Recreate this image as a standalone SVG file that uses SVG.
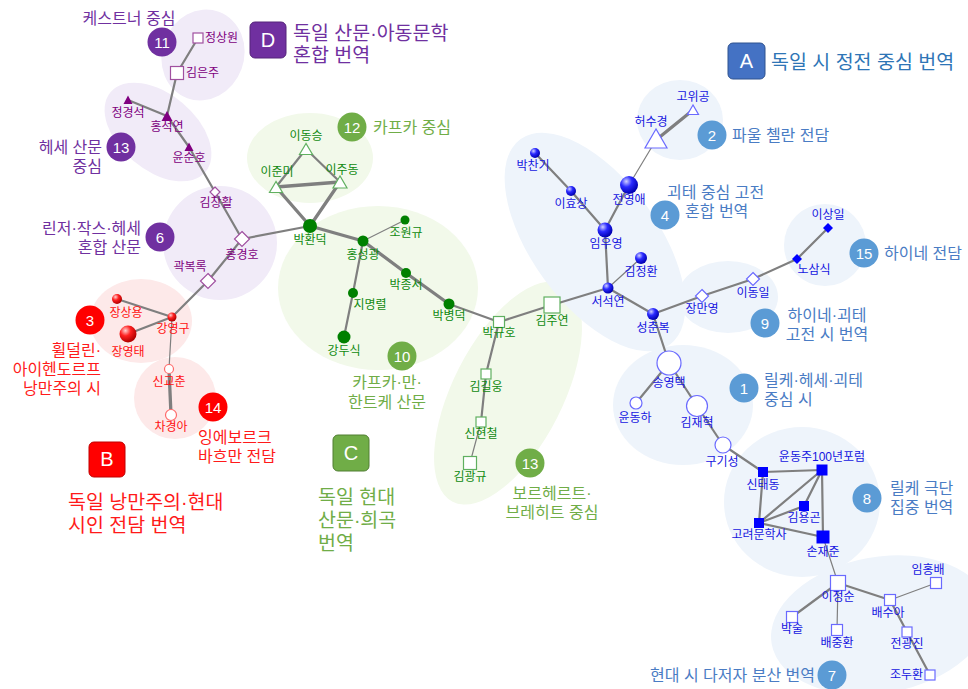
<svg xmlns="http://www.w3.org/2000/svg" width="968" height="689" viewBox="0 0 968 689">
<style>
text{font-family:"Liberation Sans","Noto Sans CJK KR",sans-serif}
.e{stroke:#7f7f7f;stroke-width:2.2;fill:none;stroke-linecap:round}
.t{stroke-width:3.3}
.n{stroke-width:1.2}
.l{font-size:12px;text-anchor:middle}
.ls{text-anchor:start}
.lp{fill:#800080}.lr{fill:#ff1010}.lg{fill:#108a10}.lb{fill:#1515e0}
.ps{fill:#fff;stroke:#a050a0;stroke-width:1.2}
.pf{fill:#800080}
.gs{fill:#fff;stroke:#60b060;stroke-width:1.2}
.gf{fill:#008000}
.bs{fill:#fff;stroke:#6a6aff;stroke-width:1.2}
.bf{fill:#0000ff}
.rs{fill:#fff;stroke:#ff6a6a;stroke-width:1.2}
.c{font-size:16px}
.tt{font-size:19.5px}
.bd{font-size:15px;fill:#fff;text-anchor:middle}
.bx{font-size:20px;fill:#fff;text-anchor:middle}
.cp{fill:#7030a0}.cr{fill:#ff1a1a}.cg{fill:#70ad47}.cb{fill:#4a7cc4}
</style>
<defs>
<radialGradient id="sb" cx="35%" cy="30%" r="70%"><stop offset="0" stop-color="#d0d0ff"/><stop offset="0.45" stop-color="#2a2aff"/><stop offset="1" stop-color="#0000b0"/></radialGradient>
<radialGradient id="sr" cx="35%" cy="30%" r="70%"><stop offset="0" stop-color="#ffd0d0"/><stop offset="0.45" stop-color="#ff2020"/><stop offset="1" stop-color="#b00000"/></radialGradient>
</defs>
<rect width="968" height="689" fill="#fff"/>
<g id="blobs">
<ellipse cx="203" cy="55" rx="41" ry="46" transform="rotate(20 203 55)" fill="#f1ebf8"/>
<ellipse cx="158" cy="132" rx="62" ry="38" transform="rotate(40 158 132)" fill="#f1ebf8"/>
<circle cx="220" cy="243" r="57" fill="#f1ebf8"/>
<ellipse cx="141" cy="321" rx="51" ry="42" fill="#fde9e9"/>
<circle cx="175" cy="398" r="41" fill="#fde9e9"/>
<ellipse cx="310" cy="158" rx="63" ry="45" fill="#f2f9ea"/>
<ellipse cx="378" cy="288" rx="100" ry="82" fill="#f2f9ea"/>
<ellipse cx="508" cy="393" rx="122" ry="55" transform="rotate(117 508 393)" fill="#f2f9ea"/>
<ellipse cx="680" cy="120" rx="43" ry="40" fill="#eef4fb"/>
<ellipse cx="595" cy="242" rx="127" ry="63" transform="rotate(54 595 242)" fill="#eef4fb"/>
<ellipse cx="728" cy="297" rx="50" ry="36" fill="#eef4fb"/>
<circle cx="825" cy="245" r="41" fill="#eef4fb"/>
<ellipse cx="683" cy="405" rx="70" ry="60" fill="#eef4fb"/>
<ellipse cx="802" cy="502" rx="78" ry="75" fill="#eef4fb"/>
<ellipse cx="880" cy="625" rx="110" ry="68" transform="rotate(-10 880 625)" fill="#eef4fb"/>
</g>
<g id="connectors">
<line class="e" x1="198" y1="38" x2="177" y2="73"/>
<line class="e" x1="177" y1="73" x2="167" y2="116"/>
<line class="e" x1="128" y1="100" x2="167" y2="116"/>
<line class="e" x1="167" y1="116" x2="189" y2="147"/>
<line class="e" x1="189" y1="147" x2="215" y2="192"/>
<line class="e" x1="215" y1="192" x2="242" y2="239"/>
<line class="e" x1="242" y1="239" x2="310" y2="226"/>
<line class="e" x1="242" y1="239" x2="208" y2="281"/>
<line class="e" x1="208" y1="281" x2="172" y2="317"/>
<line class="e" x1="117" y1="299" x2="172" y2="317"/>
<line class="e" x1="128" y1="334" x2="172" y2="317"/>
<line class="e n" x1="172" y1="317" x2="169" y2="369"/>
<line class="e t" x1="169" y1="369" x2="171" y2="415"/>
<line class="e t" x1="310" y1="226" x2="276" y2="187"/>
<line class="e t" x1="310" y1="226" x2="340" y2="182"/>
<line class="e t" x1="276" y1="187" x2="340" y2="182"/>
<line class="e" x1="276" y1="187" x2="306" y2="149"/>
<line class="e" x1="306" y1="149" x2="340" y2="182"/>
<line class="e t" x1="310" y1="226" x2="363" y2="241"/>
<line class="e n" x1="363" y1="241" x2="405" y2="220"/>
<line class="e t" x1="363" y1="241" x2="406" y2="273"/>
<line class="e t" x1="406" y1="273" x2="449" y2="304"/>
<line class="e" x1="363" y1="241" x2="353" y2="293"/>
<line class="e" x1="353" y1="293" x2="344" y2="337"/>
<line class="e" x1="449" y1="304" x2="499" y2="322"/>
<line class="e" x1="499" y1="322" x2="552" y2="305"/>
<line class="e" x1="552" y1="305" x2="608" y2="288"/>
<line class="e" x1="499" y1="322" x2="486" y2="374"/>
<line class="e" x1="486" y1="374" x2="481" y2="422"/>
<line class="e n" x1="481" y1="422" x2="470" y2="463"/>
<line class="e" x1="608" y1="288" x2="605" y2="230"/>
<line class="e" x1="605" y1="230" x2="629" y2="185"/>
<line class="e" x1="605" y1="230" x2="571" y2="191"/>
<line class="e" x1="571" y1="191" x2="535" y2="153"/>
<line class="e n" x1="629" y1="185" x2="656" y2="140"/>
<line class="e t" x1="656" y1="140" x2="693" y2="110"/>
<line class="e n" x1="608" y1="288" x2="641" y2="258"/>
<line class="e" x1="608" y1="288" x2="653" y2="314"/>
<line class="e" x1="653" y1="314" x2="702" y2="296"/>
<line class="e" x1="702" y1="296" x2="753" y2="279"/>
<line class="e" x1="753" y1="279" x2="797" y2="259"/>
<line class="e" x1="797" y1="259" x2="828" y2="228"/>
<line class="e" x1="653" y1="314" x2="669" y2="363"/>
<line class="e" x1="669" y1="363" x2="636" y2="403"/>
<line class="e" x1="669" y1="363" x2="697" y2="406"/>
<line class="e" x1="697" y1="406" x2="723" y2="445"/>
<line class="e" x1="723" y1="445" x2="763" y2="472"/>
<line class="e" x1="763" y1="472" x2="822" y2="470"/>
<line class="e" x1="763" y1="472" x2="759" y2="523"/>
<line class="e" x1="759" y1="523" x2="822" y2="470"/>
<line class="e" x1="759" y1="523" x2="804" y2="506"/>
<line class="e" x1="804" y1="506" x2="822" y2="470"/>
<line class="e" x1="759" y1="523" x2="823" y2="537"/>
<line class="e" x1="822" y1="470" x2="823" y2="537"/>
<line class="e n" x1="823" y1="537" x2="838" y2="583"/>
<line class="e" x1="838" y1="583" x2="792" y2="617"/>
<line class="e n" x1="838" y1="583" x2="837" y2="630"/>
<line class="e" x1="838" y1="583" x2="890" y2="600"/>
<line class="e n" x1="890" y1="600" x2="936" y2="583"/>
<line class="e" x1="890" y1="600" x2="907" y2="632"/>
<line class="e" x1="907" y1="632" x2="930" y2="675"/>
</g>
<g id="n-jeongsangwon"><rect class="ps" x="193" y="33" width="10" height="10"/><text class="l ls lp" x="205" y="42">정상원</text></g>
<g id="n-kimeunju"><rect class="ps" x="170.5" y="66.5" width="13" height="13"/><text class="l ls lp" x="186" y="77">김은주</text></g>
<g id="n-hongseokyeon"><polygon class="pf" points="167,111 161.5,121 172.5,121"/><text class="l lp" x="167" y="131">홍석연</text></g>
<g id="n-jeonggyeongseok"><polygon class="pf" points="128,95.5 123.5,104 132.5,104"/><text class="l lp" x="128" y="117">정경석</text></g>
<g id="n-yoonsunho"><polygon class="pf" points="189,142.5 184.5,151 193.5,151"/><text class="l lp" x="189" y="162">윤순호</text></g>
<g id="n-kimchanghwal"><polygon class="ps" points="215,187 220,192 215,197 210,192"/><text class="l lp" x="216" y="207">김창활</text></g>
<g id="n-honggyeongho"><polygon class="ps" points="242,231.5 249.5,239 242,246.5 234.5,239"/><text class="l lp" x="242" y="259">홍경호</text></g>
<g id="n-gwakbokrok"><polygon class="ps" points="208,273.5 215.5,281 208,288.5 200.5,281"/><text class="l lp" x="190" y="271">곽복록</text></g>
<g id="n-kangyeonggu"><circle cx="172" cy="317" r="4.5" fill="url(#sr)"/><text class="l lr" x="173" y="333">강영구</text></g>
<g id="n-jangsangyong"><circle cx="117" cy="299" r="5" fill="url(#sr)"/><text class="l lr" x="126" y="317">장상용</text></g>
<g id="n-jangyeongtae"><circle cx="128" cy="334" r="8.5" fill="url(#sr)"/><text class="l lr" x="128" y="356">장영태</text></g>
<g id="n-singyochun"><circle class="rs" cx="169" cy="369" r="4.5"/><text class="l lr" x="169" y="386">신교춘</text></g>
<g id="n-chagyeonga"><circle class="rs" cx="171" cy="415" r="5.5"/><text class="l lr" x="171" y="431">차경아</text></g>
<g id="n-leedongseung"><polygon class="gs" points="306,143.5 299.5,154.5 312.5,154.5"/><text class="l lg" x="306" y="140">이동승</text></g>
<g id="n-leejunmi"><polygon class="gs" points="276,181.5 269.5,192.5 282.5,192.5"/><text class="l lg" x="277" y="176">이준미</text></g>
<g id="n-leejudong"><polygon class="gs" points="340,176 333,188 347,188"/><text class="l lg" x="342" y="174">이주동</text></g>
<g id="n-parkhwandeok"><circle class="gf" cx="310" cy="226" r="7"/><text class="l lg" x="310" y="244">박환덕</text></g>
<g id="n-hongseonggwang"><circle class="gf" cx="363" cy="241" r="5.5"/><text class="l lg" x="363" y="259">홍성광</text></g>
<g id="n-jowongyu"><circle class="gf" cx="405" cy="220" r="4.5"/><text class="l lg" x="406" y="237">조원규</text></g>
<g id="n-parkjongseo"><circle class="gf" cx="406" cy="273" r="5"/><text class="l lg" x="406" y="289">박종서</text></g>
<g id="n-jimyeongryeol"><circle class="gf" cx="353" cy="293" r="5"/><text class="l lg" x="370" y="309">지명렬</text></g>
<g id="n-kangdusik"><circle class="gf" cx="344" cy="337" r="6.5"/><text class="l lg" x="344" y="355">강두식</text></g>
<g id="n-parkbyeongdeok"><circle class="gf" cx="449" cy="304" r="5.5"/><text class="l lg" x="449" y="320">박병덕</text></g>
<g id="n-parkgyuho"><rect class="gs" x="493.5" y="316.5" width="11" height="11"/><text class="l lg" x="499" y="337">박규호</text></g>
<g id="n-kimjuyeon"><rect class="gs" x="544" y="297" width="16" height="16"/><text class="l lg" x="552" y="325">김주연</text></g>
<g id="n-kimgilung"><rect class="gs" x="481" y="369" width="10" height="10"/><text class="l lg" x="486" y="391">김길웅</text></g>
<g id="n-sinhyeoncheol"><rect class="gs" x="476" y="417" width="10" height="10"/><text class="l lg" x="481" y="438">신현철</text></g>
<g id="n-kimgwanggyu"><rect class="gs" x="463.5" y="456.5" width="13" height="13"/><text class="l lg" x="470" y="481">김광규</text></g>
<g id="n-parkchangi"><circle cx="535" cy="153" r="5" fill="url(#sb)"/><text class="l lb" x="533" y="170">박찬기</text></g>
<g id="n-leehyosang"><circle cx="571" cy="191" r="5" fill="url(#sb)"/><text class="l lb" x="571" y="208">이효상</text></g>
<g id="n-jeonyeongae"><circle cx="629" cy="185" r="9" fill="url(#sb)"/><text class="l lb" x="629" y="204">전영애</text></g>
<g id="n-imuyeong"><circle cx="605" cy="230" r="7.5" fill="url(#sb)"/><text class="l lb" x="606" y="248">임우영</text></g>
<g id="n-kimjeonghwan"><circle cx="641" cy="258" r="6" fill="url(#sb)"/><text class="l lb" x="641" y="276">김정환</text></g>
<g id="n-seoseokyeon"><circle cx="608" cy="288" r="5.5" fill="url(#sb)"/><text class="l lb" x="608" y="306">서석연</text></g>
<g id="n-seongchunbok"><circle cx="653" cy="314" r="6" fill="url(#sb)"/><text class="l lb" x="653" y="332">성춘복</text></g>
<g id="n-heosugyeong"><polygon class="bs" points="656,129 645,148 667,148"/><text class="l lb" x="651" y="126">허수경</text></g>
<g id="n-gowigong"><polygon class="bs" points="693,105 687.5,114.5 698.5,114.5"/><text class="l lb" x="693" y="101">고위공</text></g>
<g id="n-jangmanyeong"><polygon class="bs" points="702,289.5 708.5,296 702,302.5 695.5,296"/><text class="l lb" x="702" y="313">장만영</text></g>
<g id="n-leedongil"><polygon class="bs" points="753,272.5 759.5,279 753,285.5 746.5,279"/><text class="l lb" x="753" y="297">이동일</text></g>
<g id="n-nosamsik"><polygon class="bf" points="797,254 802,259 797,264 792,259"/><text class="l lb" x="814" y="274">노삼식</text></g>
<g id="n-leesangil"><polygon class="bf" points="828,223 833,228 828,233 823,228"/><text class="l lb" x="828" y="219">이상일</text></g>
<g id="n-songyeongtaek"><circle class="bs" cx="669" cy="363" r="12"/><text class="l lb" x="669" y="387">송영택</text></g>
<g id="n-yoondongha"><circle class="bs" cx="636" cy="403" r="6"/><text class="l lb" x="635" y="422">윤동하</text></g>
<g id="n-kimjaehyeok"><circle class="bs" cx="697" cy="406" r="10.5"/><text class="l lb" x="697" y="427">김재혁</text></g>
<g id="n-gugiseong"><circle class="bs" cx="723" cy="445" r="8"/><text class="l lb" x="722" y="466">구기성</text></g>
<g id="n-sintaedong"><rect class="bf" x="758" y="467" width="10" height="10"/><text class="l lb" x="763" y="489">신태동</text></g>
<g id="n-yoondongju100"><rect class="bf" x="816.5" y="464.5" width="11" height="11"/><text class="l lb" x="822" y="461">윤동주100년포럼</text></g>
<g id="n-kimyonggon"><rect class="bf" x="799" y="501" width="10" height="10"/><text class="l lb" x="804" y="522">김용곤</text></g>
<g id="n-goryeomunhaksa"><rect class="bf" x="754" y="518" width="10" height="10"/><text class="l lb" x="759" y="539">고려문학사</text></g>
<g id="n-sonjaejun"><rect class="bf" x="816.5" y="530.5" width="13" height="13"/><text class="l lb" x="823" y="556">손재준</text></g>
<g id="n-leejeongsun"><rect class="bs" x="830.5" y="575.5" width="15" height="15"/><text class="l lb" x="838" y="601">이정순</text></g>
<g id="n-parksul"><rect class="bs" x="786.5" y="611.5" width="11" height="11"/><text class="l lb" x="792" y="633">박술</text></g>
<g id="n-baejunghwan"><rect class="bs" x="831.5" y="624.5" width="11" height="11"/><text class="l lb" x="837" y="647">배중환</text></g>
<g id="n-baesua"><rect class="bs" x="884.5" y="594.5" width="11" height="11"/><text class="l lb" x="888" y="617">배수아</text></g>
<g id="n-imhongbae"><rect class="bs" x="930.5" y="577.5" width="11" height="11"/><text class="l lb" x="928" y="574">임홍배</text></g>
<g id="n-jeongwangjin"><rect class="bs" x="902" y="627" width="10" height="10"/><text class="l lb" x="907" y="648">전광진</text></g>
<g id="n-joduhwan"><rect class="bs" x="925" y="670" width="10" height="10"/><text class="l lb" x="923" y="679" style="text-anchor:end">조두환</text></g>
<g id="legend-boxes">
<rect x="250" y="22" width="36" height="36" rx="5" fill="#7030a0" stroke="#55247a"/><text class="bx" x="268" y="47">D</text>
<rect x="728" y="43" width="37" height="36" rx="5" fill="#4472c4" stroke="#2f528f"/><text class="bx" x="746.5" y="68">A</text>
<rect x="89" y="442" width="36" height="35" rx="5" fill="#ff0000" stroke="#c00000"/><text class="bx" x="107" y="466">B</text>
<rect x="333" y="435" width="36" height="36" rx="5" fill="#70ad47" stroke="#507e32"/><text class="bx" x="351" y="460">C</text>
<text class="tt cp" x="293" y="40">독일 산문·아동문학</text>
<text class="tt cp" x="293" y="62">혼합 번역</text>
<text class="tt" x="771" y="69" fill="#2e75b6">독일 시 정전 중심 번역</text>
<text class="tt cr" x="68" y="509">독일 낭만주의·현대</text>
<text class="tt cr" x="68" y="532">시인 전담 번역</text>
<text class="tt cg" x="318" y="504">독일 현대</text>
<text class="tt cg" x="318" y="527">산문·희곡</text>
<text class="tt cg" x="318" y="550">번역</text>
</g>
<g id="badges">
<circle cx="162" cy="42" r="14.5" fill="#7030a0"/><text class="bd" x="162" y="47.5">11</text>
<circle cx="121" cy="147" r="14.5" fill="#7030a0"/><text class="bd" x="121" y="152.5">13</text>
<circle cx="160" cy="237" r="14.5" fill="#7030a0"/><text class="bd" x="160" y="242.5">6</text>
<circle cx="90" cy="320" r="14.5" fill="#ff0000"/><text class="bd" x="90" y="325.5">3</text>
<circle cx="213" cy="407" r="14.5" fill="#ff0000"/><text class="bd" x="213" y="412.5">14</text>
<circle cx="352" cy="127" r="14.5" fill="#70ad47"/><text class="bd" x="352" y="132.5">12</text>
<circle cx="402" cy="356" r="14.5" fill="#70ad47"/><text class="bd" x="402" y="361.5">10</text>
<circle cx="530" cy="463" r="14.5" fill="#70ad47"/><text class="bd" x="530" y="468.5">13</text>
<circle cx="712" cy="135" r="14.5" fill="#5b9bd5"/><text class="bd" x="712" y="140.5">2</text>
<circle cx="665" cy="215" r="14.5" fill="#5b9bd5"/><text class="bd" x="665" y="220.5">4</text>
<circle cx="864" cy="253" r="14.5" fill="#5b9bd5"/><text class="bd" x="864" y="258.5">15</text>
<circle cx="765" cy="323" r="14.5" fill="#5b9bd5"/><text class="bd" x="765" y="328.5">9</text>
<circle cx="744" cy="388" r="14.5" fill="#5b9bd5"/><text class="bd" x="744" y="393.5">1</text>
<circle cx="867" cy="498" r="14.5" fill="#5b9bd5"/><text class="bd" x="867" y="503.5">8</text>
<circle cx="832" cy="675" r="14.5" fill="#5b9bd5"/><text class="bd" x="832" y="680.5">7</text>
</g>
<g id="cluster-labels">
<text class="c cp" x="129" y="24" text-anchor="middle">케스트너 중심</text>
<text class="c cp" x="102" y="153" text-anchor="end">헤세 산문</text>
<text class="c cp" x="102" y="172" text-anchor="end">중심</text>
<text class="c cp" x="141" y="234" text-anchor="end">린저·작스·헤세</text>
<text class="c cp" x="141" y="253" text-anchor="end">혼합 산문</text>
<text class="c cr" x="101" y="356" text-anchor="end">휠덜린·</text>
<text class="c cr" x="101" y="375" text-anchor="end">아이헨도르프</text>
<text class="c cr" x="101" y="394" text-anchor="end">낭만주의 시</text>
<text class="c cr" x="198" y="443">잉에보르크</text>
<text class="c cr" x="198" y="462">바흐만 전담</text>
<text class="c cg" x="373" y="133">카프카 중심</text>
<text class="c cg" x="387" y="388" text-anchor="middle">카프카·만·</text>
<text class="c cg" x="387" y="408" text-anchor="middle">한트케 산문</text>
<text class="c cg" x="552" y="499" text-anchor="middle">보르헤르트·</text>
<text class="c cg" x="552" y="518" text-anchor="middle">브레히트 중심</text>
<text class="c cb" x="732" y="141">파울 첼란 전담</text>
<text class="c cb" x="667" y="198">괴테 중심 고전</text>
<text class="c cb" x="685" y="217">혼합 번역</text>
<text class="c cb" x="884" y="259">하이네 전담</text>
<text class="c cb" x="827" y="321" text-anchor="middle">하이네·괴테</text>
<text class="c cb" x="827" y="340" text-anchor="middle">고전 시 번역</text>
<text class="c cb" x="764" y="386">릴케·헤세·괴테</text>
<text class="c cb" x="764" y="405">중심 시</text>
<text class="c cb" x="890" y="494">릴케 극단</text>
<text class="c cb" x="890" y="513">집중 번역</text>
<text class="c cb" x="815" y="681" text-anchor="end">현대 시 다저자 분산 번역</text>
</g>
</svg>
